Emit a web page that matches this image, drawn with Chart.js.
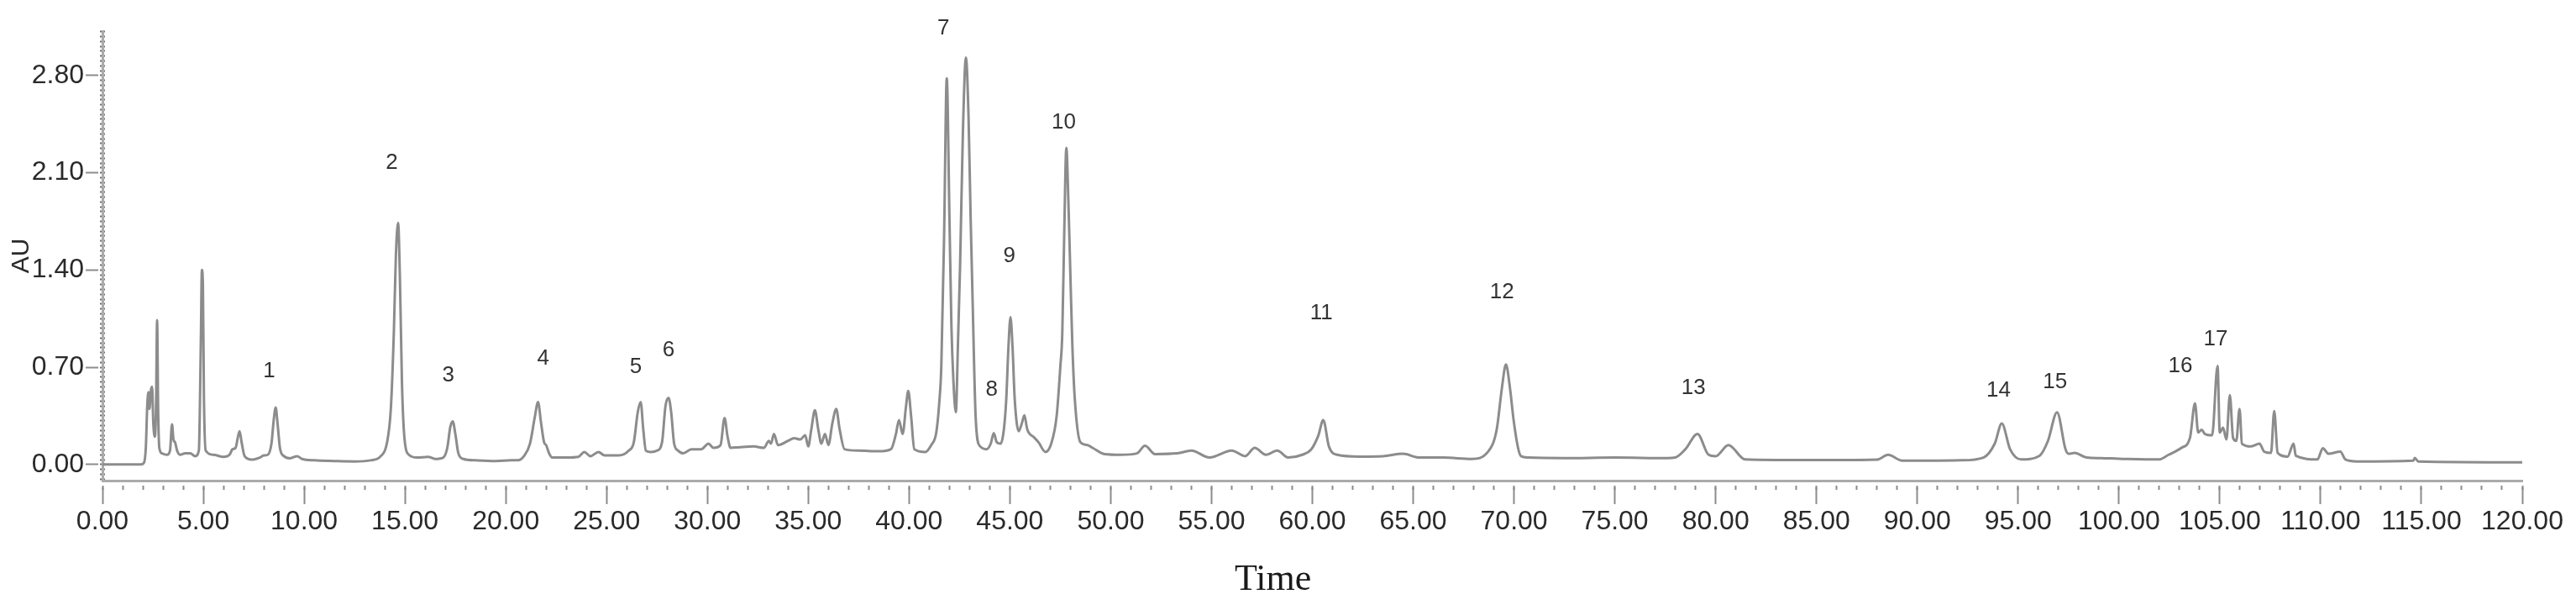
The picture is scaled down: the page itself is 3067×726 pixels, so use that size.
<!DOCTYPE html>
<html lang="en">
<head>
  <meta charset="UTF-8" />
  <title>HPLC Chromatogram</title>
  <script src="https://cdn.jsdelivr.net/npm/chart.js"></script>
  <style>
    html, body { margin: 0; padding: 0; background: #fff; }
    #wrap { width: 3067px; height: 726px; }
  </style>
</head>
<body>
  <div id="wrap"><canvas id="chrom" width="3067" height="726"></canvas></div>

  <script>
    // retention time (min) and absorbance (AU)
    const times = [
      0, 1.9, 2.05, 2.15, 2.22, 2.28, 2.33, 2.4, 2.46, 2.52, 2.6, 2.66, 2.71, 2.76, 2.82, 2.95,
      3.2, 3.35, 3.45, 3.52, 3.6, 3.7, 3.85, 4.1, 4.35, 4.6, 4.78, 4.88, 4.93, 4.98, 5.03, 5.12,
      5.5, 6.0, 6.3, 6.45, 6.6, 6.72, 6.8, 6.9, 7.05, 7.4, 7.8, 8.0, 8.2, 8.38, 8.5, 8.59, 8.68,
      8.8, 9.0, 9.3, 9.65, 9.9, 10.5, 11.5, 12.5, 13.3, 13.8, 14.1, 14.3, 14.45, 14.55, 14.66,
      14.75, 14.85, 14.97, 15.2, 15.6, 16.15, 16.5, 16.9, 17.1, 17.25, 17.37, 17.5, 17.65, 17.9,
      18.5, 19.5, 20.3, 20.6, 20.9, 21.2, 21.45, 21.6, 21.75, 21.9, 22.0, 22.15, 22.3, 23.0,
      23.6, 23.9, 24.2, 24.6, 24.9, 25.6, 26.1, 26.35, 26.55, 26.69, 26.82, 26.95, 27.2, 27.5,
      27.75, 27.92, 28.07, 28.2, 28.35, 28.55, 28.8, 29.2, 29.7, 30.05, 30.3, 30.65, 30.85, 31.0,
      31.15, 31.6, 32.3, 32.8, 33.05, 33.15, 33.3, 33.5, 34.0, 34.3, 34.6, 34.85, 35.0, 35.15,
      35.33, 35.5, 35.65, 35.83, 36.0, 36.2, 36.39, 36.55, 36.8, 37.5, 38.5, 39.1, 39.35, 39.5,
      39.68, 39.85, 39.96, 40.1, 40.26, 40.8, 41.1, 41.35, 41.5, 41.6, 41.74, 41.87, 42.0, 42.1,
      42.2, 42.32, 42.43, 42.53, 42.67, 42.82, 42.95, 43.05, 43.15, 43.3, 43.5, 43.85, 44.05,
      44.2, 44.35, 44.54, 44.7, 44.82, 44.93, 45.03, 45.13, 45.24, 45.44, 45.6, 45.72, 45.85,
      45.93, 46.2, 46.42, 46.76, 47.05, 47.32, 47.5, 47.6, 47.7, 47.8, 47.9, 48.01, 48.1, 48.22,
      48.5, 48.85, 49.1, 49.7, 50.5, 51.3, 51.7, 52.2, 53.3, 54.0, 54.9, 56.0, 56.67, 57.14,
      57.7, 58.26, 58.8, 59.5, 59.95, 60.3, 60.54, 60.82, 61.23, 62.35, 63.5, 64.5, 65.3, 66.5,
      67.9, 68.7, 69.14, 69.4, 69.6, 69.8, 69.98, 70.2, 70.35, 70.7, 72.5, 75.0, 77.6, 78.0,
      78.5, 79.1, 79.65, 80.0, 80.63, 81.46, 83.0, 86.0, 88.0, 88.55, 89.25, 91.0, 92.17, 93.28,
      93.84, 94.19, 94.6, 95.15, 96.06, 96.48, 96.93, 97.35, 97.5, 97.8, 98.4, 99.1, 100.0,
      101.97, 102.46, 103.1, 103.52, 103.77, 103.93, 104.1, 104.26, 104.62, 104.89, 105.0,
      105.16, 105.33, 105.5, 105.66, 105.82, 105.98, 106.1, 106.56, 106.97, 107.2, 107.54,
      107.7, 107.87, 108.36, 108.66, 108.77, 109.84, 110.11, 110.4, 110.98, 111.23, 111.8,
      114.6, 114.67, 114.84, 120.0
    ];
    const absorbance = [
      0, 0, 0.01, 0.12, 0.42, 0.52, 0.4, 0.53, 0.56, 0.3, 0.2, 0.45, 1.04, 0.4, 0.12, 0.08,
      0.07, 0.1, 0.29, 0.18, 0.16, 0.1, 0.07, 0.08, 0.08, 0.06, 0.1, 0.9, 1.4, 1.3, 0.5, 0.1,
      0.07, 0.055, 0.07, 0.11, 0.12, 0.2, 0.24, 0.16, 0.06, 0.035, 0.05, 0.065, 0.07, 0.15, 0.33, 0.41, 0.3,
      0.12, 0.06, 0.045, 0.06, 0.04, 0.03, 0.025, 0.022, 0.03, 0.06, 0.15, 0.4, 0.95, 1.5, 1.74,
      1.35, 0.6, 0.2, 0.07, 0.05, 0.055, 0.04, 0.05, 0.12, 0.27, 0.31, 0.22, 0.08, 0.04,
      0.03, 0.025, 0.03, 0.03, 0.06, 0.15, 0.35, 0.45, 0.3, 0.16, 0.14, 0.08, 0.05, 0.05,
      0.055, 0.09, 0.06, 0.09, 0.065, 0.065, 0.1, 0.16, 0.38, 0.45, 0.25, 0.1, 0.09, 0.1,
      0.16, 0.42, 0.48, 0.38, 0.15, 0.1, 0.08, 0.11, 0.11, 0.15, 0.12, 0.14, 0.335, 0.2,
      0.12, 0.125, 0.13, 0.12, 0.17, 0.15, 0.22, 0.14, 0.17, 0.19, 0.18, 0.21, 0.13, 0.25,
      0.39, 0.25, 0.15, 0.22, 0.14, 0.3, 0.4, 0.26, 0.11, 0.1, 0.095, 0.11, 0.22, 0.32,
      0.22, 0.42, 0.53, 0.35, 0.11, 0.09, 0.14, 0.23, 0.45, 0.71, 1.67, 2.78, 1.8, 1.0,
      0.6, 0.375, 0.9, 1.43, 2.39, 2.93, 2.5, 1.8, 1.19, 0.35, 0.135, 0.11, 0.15,
      0.225, 0.16, 0.15, 0.25, 0.47, 0.85, 1.06, 0.85, 0.47, 0.24, 0.3, 0.355, 0.26,
      0.23, 0.195, 0.16, 0.09, 0.15, 0.35, 0.7, 0.95, 1.7, 2.28, 1.9, 1.31, 0.85, 0.47,
      0.16, 0.14, 0.12, 0.075, 0.07, 0.08, 0.135, 0.075, 0.08, 0.1, 0.05, 0.1, 0.06, 0.12,
      0.07, 0.1, 0.05, 0.07, 0.11, 0.21, 0.32, 0.13, 0.07, 0.057, 0.06, 0.077, 0.05, 0.05,
      0.04, 0.09, 0.25, 0.55, 0.72, 0.55, 0.32, 0.12, 0.06, 0.05, 0.046, 0.05, 0.046, 0.05,
      0.11, 0.22, 0.07, 0.06, 0.14, 0.036, 0.032, 0.032, 0.035, 0.07, 0.028, 0.028, 0.03, 0.05,
      0.15, 0.295, 0.11, 0.036, 0.063, 0.17, 0.376, 0.11, 0.077, 0.083, 0.05, 0.046, 0.042,
      0.036, 0.07, 0.12, 0.19, 0.44, 0.23, 0.25, 0.22, 0.21, 0.71, 0.23,
      0.265, 0.18, 0.5, 0.19, 0.17, 0.4, 0.15, 0.13, 0.15, 0.093, 0.083,
      0.385, 0.083, 0.057, 0.15, 0.063, 0.036, 0.117, 0.077, 0.093, 0.036, 0.022,
      0.028, 0.048, 0.022, 0.016
    ];

    // numbered peak labels: text, time, AU height of the label
    const peakNames = ['1', '2', '3', '4', '5', '6', '7', '8', '9', '10', '11', '12', '13', '14', '15', '16', '17'];
    const peakLabelTimes = [8.27, 14.35, 17.15, 21.86, 26.45, 28.07, 41.7, 44.1, 44.97, 47.67, 60.45, 69.4, 78.9, 94.03, 96.83, 103.05, 104.8];
    const peakLabelAU = [0.67, 2.17, 0.64, 0.76, 0.7, 0.82, 3.14, 0.54, 1.5, 2.46, 1.09, 1.24, 0.55, 0.53, 0.59, 0.71, 0.9];

    // axis ticks
    const xTickValues = [0, 5, 10, 15, 20, 25, 30, 35, 40, 45, 50, 55, 60, 65, 70, 75, 80, 85, 90, 95, 100, 105, 110, 115, 120];
    const yTickValues = [0.0, 0.7, 1.4, 2.1, 2.8];

    // x-axis title sits a little left of the centre, under ~58 min
    const X_TITLE = 'Time';
    const X_TITLE_AT = 58.05;

    const Y_MIN = -0.116;
    const Y_MAX = 3.12;
    const axisGray = '#ababab';
    const tickGray = '#8c8c8c';
    const textColor = '#2a2a2a';
    const narrowFont = "'Liberation Sans Narrow', 'Arial Narrow', 'Liberation Sans', sans-serif";

    const points = times.map((t, i) => ({ x: t, y: absorbance[i] }));

    const peakLabelPlugin = {
      id: 'peakLabels',
      afterDatasetsDraw(chart) {
        const { ctx, scales } = chart;
        ctx.save();
        ctx.font = "26px 'Liberation Sans', Arial, sans-serif";
        ctx.fillStyle = '#333';
        ctx.textAlign = 'center';
        ctx.textBaseline = 'middle';
        peakNames.forEach((name, i) => {
          ctx.fillText(name, scales.x.getPixelForValue(peakLabelTimes[i]), scales.y.getPixelForValue(peakLabelAU[i]));
        });
        // axis title under the time axis
        ctx.font = "44px 'Liberation Serif', 'Times New Roman', serif";
        ctx.fillStyle = '#1a1a1a';
        ctx.fillText(X_TITLE, scales.x.getPixelForValue(X_TITLE_AT), scales.x.bottom - 36);
        ctx.restore();
      }
    };

    new Chart(document.getElementById('chrom'), {
      type: 'line',
      data: {
        datasets: [{
          data: points,
          xAxisID: 'x',
          yAxisID: 'y',
          borderColor: '#8c8c8c',
          borderWidth: 3,
          pointRadius: 0,
          cubicInterpolationMode: 'monotone',
          borderJoinStyle: 'round',
          fill: false
        }]
      },
      options: {
        responsive: false,
        animation: false,
        layout: { padding: { top: 37, right: 64, left: 0, bottom: 0 } },
        plugins: {
          legend: { display: false },
          tooltip: { enabled: false }
        },
        scales: {
          x: {
            type: 'linear',
            position: 'bottom',
            min: 0,
            max: 120,
            afterBuildTicks: s => { s.ticks = xTickValues.map(v => ({ value: v })); },
            afterFit: s => { s.height = 154; },
            border: { display: true, color: axisGray, width: 3 },
            grid: {
              drawOnChartArea: false,
              tickLength: 28,
              tickWidth: 2,
              tickColor: tickGray,
              tickBorderDash: [0, 6, 22, 0]
            },
            ticks: {
              autoSkip: false,
              maxRotation: 0,
              padding: 2,
              color: textColor,
              font: { family: narrowFont, size: 32 },
              callback: v => v.toFixed(2)
            },
            title: { display: false }
          },
          xMinor: {
            type: 'linear',
            axis: 'x',
            position: { y: Y_MIN },
            min: 0,
            max: 120,
            border: { display: false },
            grid: {
              drawOnChartArea: false,
              tickLength: 11,
              tickWidth: 2,
              tickColor: tickGray,
              tickBorderDash: [0, 6, 5, 0]
            },
            ticks: { display: false, stepSize: 1, includeBounds: false }
          },
          y: {
            type: 'linear',
            position: 'left',
            min: Y_MIN,
            max: Y_MAX,
            afterBuildTicks: s => { s.ticks = yTickValues.map(v => ({ value: v })); },
            afterFit: s => { s.width = 122; },
            border: { display: true, color: axisGray, width: 3 },
            grid: {
              drawOnChartArea: false,
              tickLength: 20,
              tickWidth: 2,
              tickColor: tickGray,
              tickBorderDash: [15, 10]
            },
            ticks: {
              padding: 2,
              color: textColor,
              font: { family: narrowFont, size: 32 },
              callback: v => v.toFixed(2)
            },
            title: {
              display: true,
              text: 'AU',
              color: textColor,
              font: { family: "'Liberation Sans', Arial, sans-serif", size: 30 },
              padding: { top: 8, bottom: 0 }
            }
          },
          yMinor: {
            type: 'linear',
            axis: 'y',
            position: { x: 0.12 },
            min: Y_MIN,
            max: Y_MAX,
            border: { display: false },
            grid: {
              drawOnChartArea: false,
              tickLength: 6,
              tickWidth: 2,
              tickColor: '#6e6e6e'
            },
            ticks: { display: false, stepSize: 0.035, includeBounds: false }
          }
        }
      },
      plugins: [peakLabelPlugin]
    });
  </script>
</body>
</html>
